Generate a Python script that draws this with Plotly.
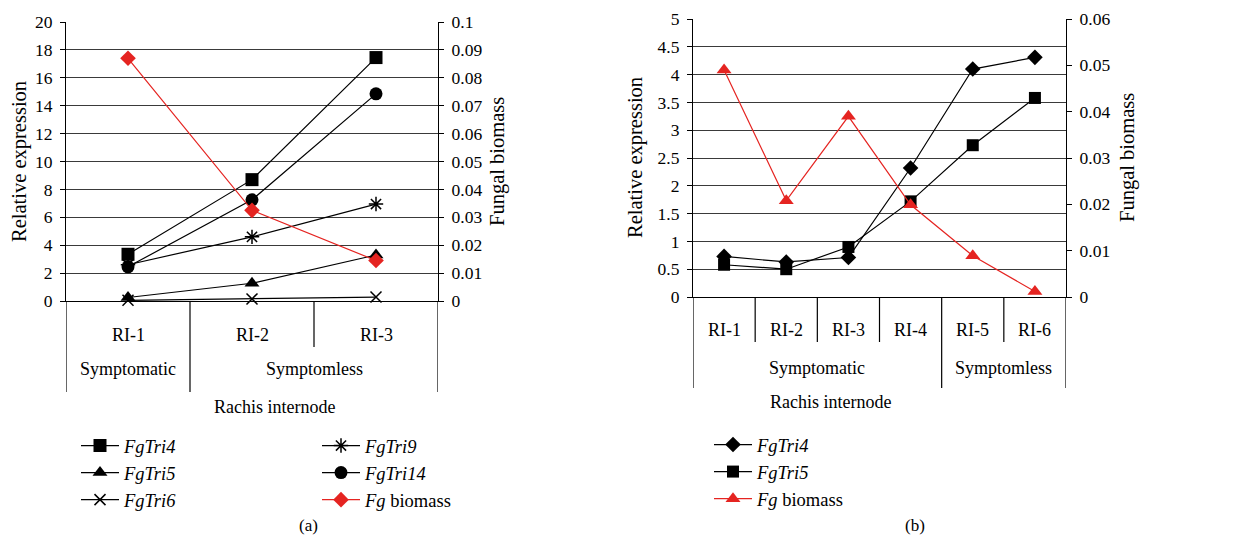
import plotly.graph_objects as go

# page body has an 8px margin; figure is sized to fit the window inside it
W, H = 1242, 550
OFF = 8
FW, FH = W - 2 * OFF, H - 2 * OFF
def px(x): return (x - OFF) / FW
def py(y): return 1 - (y - OFF) / FH

FONT = "Liberation Serif"
RED = "#e52421"

# ---------------- data ----------------
cats_a = ["RI-1", "RI-2", "RI-3"]
groups_a = ["Symptomatic", "Symptomless", "Symptomless"]
tri4_a = [3.35, 8.7, 17.45]
tri5_a = [0.25, 1.27, 3.3]
tri6_a = [0.05, 0.15, 0.28]
tri9_a = [2.6, 4.6, 6.95]
tri14_a = [2.45, 7.25, 14.85]
biomass_a = [0.087, 0.0325, 0.0145]

cats_b = ["RI-1", "RI-2", "RI-3", "RI-4", "RI-5", "RI-6"]
groups_b = ["Symptomatic", "Symptomatic", "Symptomatic", "Symptomatic", "Symptomless", "Symptomless"]
tri4_b = [0.73, 0.63, 0.71, 2.32, 4.1, 4.31]
tri5_b = [0.58, 0.5, 0.9, 1.72, 2.73, 3.58]
biomass_b = [0.049, 0.0208, 0.039, 0.0199, 0.0089, 0.0012]

fig = go.Figure()

def line_trace(x, y, name, symbol, size, color="black", xaxis="x", yaxis="y",
               legend="legend", mlw=0):
    return go.Scatter(
        x=x, y=y, name=name, mode="lines+markers", xaxis=xaxis, yaxis=yaxis,
        line=dict(color=color, width=1.2),
        marker=dict(symbol=symbol, size=size, color=color,
                    line=dict(color=color, width=mlw)),
        legend=legend, cliponaxis=False)

# panel a
fig.add_trace(line_trace(cats_a, tri4_a, "<i>FgTri4</i>", "square", 13))
fig.add_trace(line_trace(cats_a, tri5_a, "<i>FgTri5</i>", "triangle-up", 13))
fig.add_trace(line_trace(cats_a, tri6_a, "<i>FgTri6</i>", "x-thin-open", 11, mlw=1.5))
fig.add_trace(line_trace(cats_a, tri9_a, "<i>FgTri9</i>", "asterisk-open", 12, legend="legend2", mlw=1.5))
fig.add_trace(line_trace(cats_a, tri14_a, "<i>FgTri14</i>", "circle", 13, legend="legend2"))
fig.add_trace(line_trace(cats_a, biomass_a, "<i>Fg</i> biomass", "diamond", 12, color=RED,
                         yaxis="y2", legend="legend2"))
# panel b
fig.add_trace(line_trace(cats_b, tri4_b, "<i>FgTri4</i>", "diamond", 12, xaxis="x2", yaxis="y3", legend="legend3"))
fig.add_trace(line_trace(cats_b, tri5_b, "<i>FgTri5</i>", "square", 12, xaxis="x2", yaxis="y3", legend="legend3"))
fig.add_trace(line_trace(cats_b, biomass_b, "<i>Fg</i> biomass", "triangle-up", 13, color=RED,
                         xaxis="x2", yaxis="y4", legend="legend3"))

tickfont = dict(family=FONT, size=17.5, color="black")
grid = "#3a3a3a"

def yax(domain, rng, dtick, anchor, side="left", overlaying=None, grid_on=True, fmt=None):
    d = dict(domain=domain, range=rng, dtick=dtick, tick0=0, anchor=anchor, side=side,
             showgrid=grid_on, gridcolor=grid, gridwidth=1.2, zeroline=False,
             showline=True, linecolor="black", linewidth=1.2,
             ticks="outside", ticklen=5, tickcolor="black", tickfont=tickfont,
             ticklabelstandoff=4, ticklabeloverflow="allow",
             automargin=False, fixedrange=True)
    if overlaying:
        d["overlaying"] = overlaying
    if fmt:
        d["tickformat"] = fmt
    return d

def xax(domain, n, anchor):
    return dict(domain=domain, type="category", range=[-0.5, n - 0.5], anchor=anchor,
                showticklabels=False, showgrid=False, zeroline=False, automargin=False,
                showline=True, linecolor="black", linewidth=1.4, ticks="")

xa_dom = [px(66), px(438)]
ya_dom = [py(301), py(22)]
xb_dom = [px(693), px(1066)]
yb_dom = [py(297), py(19)]

fig.update_layout(
    template="none",
    width=FW, height=FH, margin=dict(l=0, r=0, t=0, b=0, autoexpand=False),
    paper_bgcolor="white", plot_bgcolor="white",
    font=dict(family=FONT, size=18, color="black"),
    xaxis=xax(xa_dom, len(cats_a), "y"),
    yaxis=yax(ya_dom, [0, 20], 2, "x"),
    yaxis2=yax(ya_dom, [0, 0.1], 0.01, "x", side="right", overlaying="y", grid_on=False, fmt="~g"),
    xaxis2=xax(xb_dom, len(cats_b), "y3"),
    yaxis3=yax(yb_dom, [0, 5], 0.5, "x2"),
    yaxis4=yax(yb_dom, [0, 0.06], 0.01, "x2", side="right", overlaying="y3", grid_on=False, fmt="~g"),
)

leg_common = dict(font=dict(family=FONT, size=18.5, color="black"), bgcolor="rgba(0,0,0,0)",
                  itemwidth=38, tracegroupgap=0, traceorder="normal",
                  xanchor="left", yanchor="top", borderwidth=0)
fig.update_layout(
    legend=dict(x=px(76), y=py(427), **leg_common),
    legend2=dict(x=px(317), y=py(427), **leg_common),
    legend3=dict(x=px(709), y=py(426), **leg_common),
)

shapes = []
annotations = []

def cat_axis(cats, groups, xref, yref_axis, ri_y, grp_y, short_y, long_y, title_x, title_y):
    n = len(cats)
    for b in range(n + 1):
        pos = b - 0.5
        is_group_edge = b == 0 or b == n or groups[b - 1] != groups[b]
        yb = long_y if is_group_edge else short_y
        shapes.append(dict(type="line", xref=xref, yref="paper", x0=pos, x1=pos,
                           y0=py(yb), y1=yref_axis, line=dict(color="black", width=1.2)))
    for c in cats:
        annotations.append(dict(x=c, xref=xref, y=py(ri_y), yref="paper", text=c,
                                showarrow=False, font=dict(size=18), yanchor="middle"))
    seen = []
    for g in groups:
        if g not in seen:
            seen.append(g)
    for g in seen:
        idx = [i for i, gg in enumerate(groups) if gg == g]
        center = (idx[0] + idx[-1]) / 2
        annotations.append(dict(x=center, xref=xref, y=py(grp_y), yref="paper", text=g,
                                showarrow=False, font=dict(size=18), yanchor="middle"))
    annotations.append(dict(x=px(title_x), xref="paper", y=py(title_y), yref="paper",
                            text="Rachis internode", showarrow=False, font=dict(size=18),
                            yanchor="middle"))

cat_axis(cats_a, groups_a, "x", ya_dom[0], 335, 369, 347, 392, 212, 407)
cat_axis(cats_b, groups_b, "x2", yb_dom[0], 330, 368, 342, 388, 893, 402)

for (x, y, t) in [(19, 162, "Relative expression"), (497, 162, "Fungal biomass"),
                  (635, 158, "Relative expression"), (1127, 158, "Fungal biomass")]:
    annotations.append(dict(x=px(x), y=py(y), xref="paper", yref="paper", text=t,
                            textangle=-90, showarrow=False, font=dict(size=20.5),
                            xanchor="center", yanchor="middle"))

annotations.append(dict(x=px(297), y=py(537), xref="paper", yref="paper", text="(a)",
                        showarrow=False, font=dict(size=17)))
annotations.append(dict(x=px(927), y=py(537), xref="paper", yref="paper", text="(b)",
                        showarrow=False, font=dict(size=17)))

fig.update_layout(shapes=shapes, annotations=annotations)
fig.write_html("out.html")
